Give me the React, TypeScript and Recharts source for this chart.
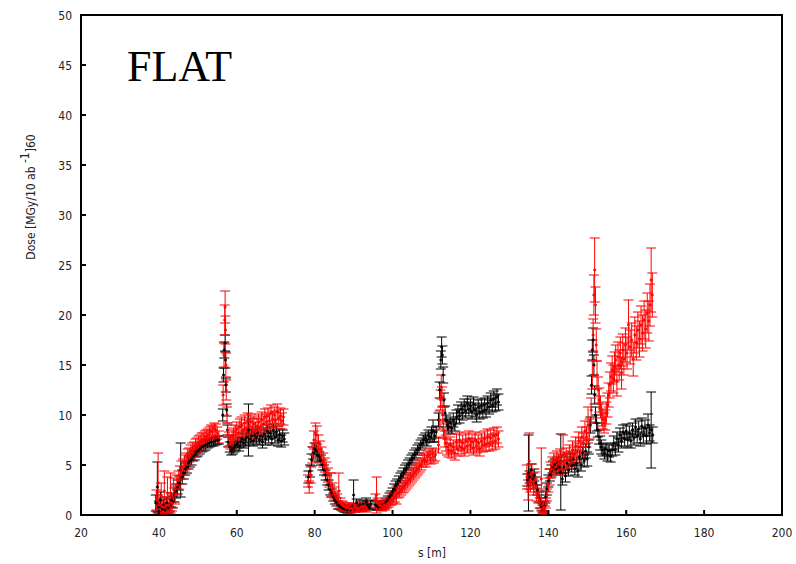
import React from "react";
import { ScatterChart, Scatter, XAxis, YAxis, ErrorBar, ReferenceArea } from "recharts";

// [s (m), dose, error]
const blackSeg1: [number, number, number][] = [
  [39.2,1.2,0.8],[39.6,2.8,2.5],[40.0,0.8,0.6],[40.4,1.5,0.8],[40.8,0.6,0.5],[41.2,1.0,0.6],[41.6,0.5,0.4],[42.0,1.2,0.6],[42.4,0.7,0.5],[42.8,1.0,0.6],[43.2,1.5,0.7],[43.6,1.3,0.6],[44.0,2.0,0.7],[44.4,2.4,0.7],[44.8,2.8,0.7],[45.2,3.2,0.7],[45.6,4.5,2.7],[46.0,3.8,0.7],[46.4,4.2,0.6],[46.8,4.6,0.6],[47.2,4.8,0.6],[47.6,5.2,0.6],[48.0,5.4,0.6],[48.4,5.6,0.6],[48.8,5.9,0.5],[49.2,6.0,0.5],[49.6,6.3,0.5],[50.0,6.4,0.5],[50.5,6.6,0.5],[51.0,6.8,0.5],[51.5,6.9,0.5],[52.0,7.0,0.5],[52.5,7.1,0.4],[53.0,7.2,0.4],[53.5,7.3,0.4],[54.0,7.3,0.4],[54.5,7.4,0.4],[55.0,7.5,0.4],[55.4,7.5,0.4],
  [56.4,10.0,0.6],[56.6,14.0,0.7],[56.8,16.5,0.8],[57.0,17.2,0.8],[57.1,15.5,0.8],[57.2,13.0,0.7],[57.4,10.5,0.6],[57.6,8.5,0.5],[57.8,7.3,0.5],[58.2,6.8,0.5],[58.6,6.5,0.5],[59.0,6.6,0.5],[59.4,6.8,0.5],[59.8,7.0,0.5],[60.2,7.2,0.5],[60.6,6.9,0.5],[61.0,7.3,0.5],[61.4,7.6,0.6],[61.8,7.2,0.5],[62.2,7.5,0.6],[62.6,7.8,0.6],[63.0,8.5,2.6],[63.4,7.6,0.6],[63.8,7.9,0.6],[64.2,7.4,0.5],[64.6,8.0,0.6],[65.0,7.7,0.6],[65.4,8.2,0.6],[65.8,7.5,0.5],[66.2,7.9,0.6],[66.6,7.3,0.6],[67.0,8.1,0.6],[67.4,7.6,0.6],[67.8,8.4,0.6],[68.2,7.8,0.6],[68.6,8.2,0.6],[69.0,7.6,0.6],[69.4,8.5,0.6],[69.8,7.8,0.6],[70.2,8.3,0.6],[70.6,7.5,0.6],[71.0,8.0,0.6],[71.4,7.4,0.6],[71.8,7.9,0.6],[72.2,7.6,0.6],
];
const redSeg1: [number, number, number][] = [
  [39.4,1.5,1.0],[39.8,3.2,3.0],[40.2,1.0,0.8],[40.6,2.0,1.2],[41.0,0.8,0.7],[41.4,2.4,2.0],[41.8,1.0,0.8],[42.2,2.2,1.6],[42.6,1.0,0.7],[43.0,2.2,2.0],[43.4,1.2,0.8],[43.8,2.5,1.2],[44.2,2.0,0.9],[44.6,3.0,1.0],[45.0,3.5,0.9],[45.4,4.0,0.9],[45.8,4.5,0.9],[46.2,4.8,0.8],[46.6,5.2,0.8],[47.0,5.4,0.8],[47.4,5.8,0.8],[47.8,6.0,0.7],[48.2,6.3,0.7],[48.6,6.5,0.7],[49.0,6.6,0.7],[49.4,6.9,0.7],[49.8,7.0,0.7],[50.2,7.2,0.7],[50.6,7.3,0.7],[51.0,7.5,0.7],[51.4,7.6,0.6],[51.8,7.8,0.6],[52.2,7.9,0.6],[52.6,8.0,0.6],[53.0,8.2,0.6],[53.4,8.4,0.6],[53.8,8.3,0.6],[54.2,8.6,0.6],[54.6,8.5,0.6],[55.0,8.2,0.6],[55.4,7.8,0.6],
  [56.5,12.0,1.0],[56.7,16.0,1.2],[56.9,19.5,1.5],[57.0,20.8,1.6],[57.1,18.5,1.4],[57.2,15.0,1.2],[57.3,12.5,1.0],[57.5,10.0,0.8],[57.7,8.5,0.7],[58.0,7.6,0.7],[58.4,7.3,0.7],[58.8,7.8,0.7],[59.2,8.0,0.7],[59.6,8.3,0.7],[60.0,8.6,0.7],[60.4,8.2,0.7],[60.8,8.8,0.8],[61.2,9.0,0.8],[61.6,8.5,0.7],[62.0,9.2,0.8],[62.4,8.7,0.8],[62.8,9.4,0.8],[63.2,8.9,0.8],[63.6,9.3,0.8],[64.0,8.8,0.8],[64.4,9.1,0.8],[64.8,8.5,0.8],[65.2,8.9,0.8],[65.6,9.3,0.8],[66.0,8.8,0.8],[66.4,9.5,0.8],[66.8,9.1,0.8],[67.2,9.8,0.8],[67.6,9.3,0.8],[68.0,9.9,0.8],[68.4,9.4,0.8],[68.8,10.2,0.8],[69.2,9.6,0.8],[69.6,10.0,0.8],[70.0,9.5,0.8],[70.4,10.3,0.8],[70.8,9.7,0.8],[71.2,9.9,0.8],[71.6,9.4,0.8],[72.0,9.8,0.8],
];
const blackSeg2: [number, number, number][] = [
  [78.4,3.8,0.6],[78.8,4.4,0.6],[79.2,5.5,0.6],[79.6,6.2,0.6],[80.0,6.6,0.6],[80.4,6.4,0.6],[80.8,6.0,0.6],[81.2,5.8,0.5],[81.6,5.5,0.5],[82.0,5.0,0.5],[82.4,4.5,0.5],[82.8,4.0,0.5],[83.2,3.5,0.5],[83.6,3.0,0.5],[84.0,2.5,0.5],[84.4,2.2,0.4],[84.8,1.8,0.4],[85.2,1.5,0.4],[85.6,1.3,0.4],[86.0,1.0,0.4],[86.4,0.9,0.3],[86.8,0.8,0.3],[87.2,0.7,0.3],[87.6,0.6,0.3],[88.0,0.6,0.3],[88.4,0.5,0.3],[88.8,0.7,0.3],[89.2,0.5,0.3],[89.6,0.8,0.3],[90.0,2.0,1.5],[90.4,0.6,0.3],[90.8,1.2,0.4],[91.2,0.8,0.3],[91.6,1.0,0.4],[92.0,0.7,0.3],[92.4,1.1,0.4],[92.8,0.9,0.3],[93.2,1.3,0.4],[93.6,1.0,0.4],[94.0,0.8,0.3],[94.4,1.1,0.4],
];
const redSeg2: [number, number, number][] = [
  [78.3,3.4,0.6],[78.6,2.8,0.6],[79.0,4.0,0.8],[79.4,6.0,0.8],[79.8,7.5,0.9],[80.2,8.2,1.0],[80.6,8.0,0.9],[81.0,7.2,0.8],[81.4,6.6,0.8],[81.8,6.0,0.8],[82.2,5.5,0.7],[82.6,5.0,0.7],[83.0,4.6,0.7],[83.4,4.0,0.7],[83.8,3.5,0.7],[84.2,3.0,1.2],[84.6,2.6,0.6],[85.0,2.2,0.6],[85.4,1.9,0.5],[85.8,1.6,0.5],[86.2,2.4,1.8],[86.6,1.2,0.5],[87.0,1.0,0.4],[87.4,0.9,0.4],[87.8,0.8,0.4],[88.2,0.7,0.3],[88.6,0.8,0.4],[89.0,0.6,0.3],[89.4,0.7,0.3],[89.8,0.6,0.3],[90.2,0.8,0.4],[90.6,0.6,0.3],[91.0,0.7,0.3],[91.4,0.6,0.3],[91.8,0.8,0.3],[92.2,0.7,0.3],[92.6,0.9,0.4],[93.0,0.8,0.4],[93.4,0.6,0.3],
];
const blackSeg3: [number, number, number][] = [
  [95.6,1.0,0.4],[96.0,0.9,0.4],[96.4,0.8,0.3],[96.8,0.9,0.3],[97.2,0.8,0.3],[97.6,1.0,0.4],[98.0,1.1,0.4],[98.4,1.3,0.4],[98.8,1.5,0.4],[99.2,1.8,0.4],[99.6,2.0,0.4],[100.0,2.3,0.4],[100.4,2.6,0.5],[100.8,2.9,0.5],[101.2,3.1,0.5],[101.6,3.4,0.5],[102.0,3.7,0.5],[102.4,3.9,0.5],[102.8,4.2,0.5],[103.2,4.5,0.5],[103.6,4.7,0.5],[104.0,5.0,0.5],[104.4,5.2,0.5],[104.8,5.5,0.5],[105.2,5.7,0.5],[105.6,6.0,0.5],[106.0,6.2,0.5],[106.4,6.5,0.5],[106.8,6.7,0.5],[107.2,7.0,0.5],[107.6,7.2,0.5],[108.0,7.5,0.5],[108.4,7.7,0.5],[108.8,7.4,0.5],[109.2,8.0,0.5],[109.6,7.8,0.5],[110.0,8.2,0.6],[110.4,8.4,1.1],[110.8,7.9,0.6],[111.2,8.3,0.6],
];
const redSeg3: [number, number, number][] = [
  [95.6,1.5,0.6],[95.9,2.0,1.8],[96.2,1.2,0.5],[96.6,1.0,0.4],[97.0,0.9,0.4],[97.4,0.8,0.4],[97.8,1.0,0.4],[98.2,0.9,0.4],[98.6,1.1,0.4],[99.0,1.2,0.4],[99.4,1.4,0.4],[99.8,1.5,0.5],[100.2,1.7,0.5],[100.6,1.8,0.5],[101.0,2.0,0.9],[101.4,2.2,0.5],[101.8,2.3,0.5],[102.2,2.5,0.5],[102.6,2.7,0.5],[103.0,2.9,0.6],[103.4,3.1,0.6],[103.8,3.3,0.6],[104.2,3.5,0.6],[104.6,3.7,0.6],[105.0,3.9,0.6],[105.4,4.1,0.6],[105.8,4.3,0.6],[106.2,4.5,0.6],[106.6,4.7,0.6],[107.0,4.9,0.6],[107.4,5.1,0.6],[107.8,5.4,0.6],[108.2,5.6,0.6],[108.6,5.4,0.6],[109.0,5.8,0.6],[109.4,6.0,0.6],[109.8,5.7,0.6],[110.2,6.1,0.6],[110.6,5.8,0.6],[111.0,6.0,0.6],
];
const blackSeg4: [number, number, number][] = [
  [111.8,9.5,0.7],[112.1,12.5,0.8],[112.4,15.5,0.9],[112.6,16.8,1.0],[112.8,16.0,0.9],[113.0,14.0,0.8],[113.2,11.5,0.7],[113.5,10.2,0.7],[113.8,9.4,0.6],[114.1,9.0,0.6],[114.4,8.8,0.6],[114.8,9.2,0.6],[115.2,8.7,0.6],[115.6,9.5,0.7],[116.0,9.0,0.6],[116.4,9.8,0.7],[116.8,10.3,0.7],[117.2,9.9,0.7],[117.6,10.6,0.7],[118.0,10.2,0.7],[118.4,10.9,0.7],[118.8,10.4,0.7],[119.2,11.2,0.7],[119.6,10.6,0.7],[120.0,10.9,0.7],[120.4,10.3,0.7],[120.8,11.1,0.7],[121.2,10.5,0.7],[121.6,10.0,0.7],[122.0,10.8,0.7],[122.4,10.3,0.7],[122.8,10.9,0.7],[123.2,10.4,0.7],[123.6,11.0,0.7],[124.0,10.5,0.7],[124.4,11.2,0.7],[124.8,10.8,0.7],[125.2,11.5,0.7],[125.6,11.0,0.7],[126.0,11.6,0.8],[126.4,11.2,0.8],[126.8,11.8,0.8],[127.2,11.3,0.8],
];
const redSeg4: [number, number, number][] = [
  [111.8,7.0,0.8],[112.1,9.5,0.9],[112.3,11.5,1.0],[112.5,12.8,1.2],[112.7,11.8,1.0],[112.9,10.0,0.9],[113.1,8.5,0.8],[113.4,7.6,0.8],[113.7,7.2,0.8],[114.0,6.8,0.8],[114.4,6.5,0.7],[114.8,7.0,0.8],[115.2,6.4,0.7],[115.6,6.8,0.7],[116.0,6.2,0.7],[116.4,7.3,0.8],[116.8,6.6,0.7],[117.2,7.5,0.8],[117.6,6.8,0.7],[118.0,7.2,0.8],[118.4,6.6,0.7],[118.8,7.4,0.8],[119.2,6.9,0.7],[119.6,7.6,0.8],[120.0,7.0,0.7],[120.4,7.3,0.8],[120.8,6.7,0.7],[121.2,7.5,0.8],[121.6,6.9,0.7],[122.0,7.2,0.8],[122.4,6.6,0.7],[122.8,7.4,0.8],[123.2,7.0,0.7],[123.6,7.6,0.8],[124.0,7.1,0.7],[124.4,7.8,0.8],[124.8,7.2,0.8],[125.2,7.7,0.8],[125.6,7.3,0.8],[126.0,7.9,0.8],[126.4,7.4,0.8],[126.8,8.0,0.8],[127.2,7.6,0.8],
];
const blackSeg5: [number, number, number][] = [
  [134.6,3.5,0.6],[134.9,4.2,3.8],[135.2,3.8,0.6],[135.6,4.5,0.6],[136.0,3.6,0.6],[136.4,4.0,0.6],[136.8,3.2,0.6],[137.2,2.5,0.5],[137.6,1.8,0.5],[138.0,1.2,0.5],[138.3,0.8,0.4],[138.6,0.6,0.4],[139.0,0.9,0.5],[139.3,1.8,0.6],[139.6,2.6,0.6],[140.0,3.4,0.6],[140.4,4.0,0.6],[140.8,4.4,0.6],[141.2,4.8,0.6],[141.6,5.0,0.6],[142.0,4.6,0.6],[142.4,5.2,0.6],[142.8,4.8,0.6],[143.2,4.3,3.8],[143.6,3.6,0.6],[144.0,4.8,0.6],[144.4,3.9,0.6],[144.8,5.2,0.6],[145.2,4.5,0.6],[145.6,5.5,0.6],[146.0,4.9,0.6],[146.4,5.6,0.6],[146.8,4.6,0.6],[147.2,5.2,0.6],[147.6,4.4,0.6],[148.0,5.8,0.6],[148.4,5.0,0.6],[148.8,6.2,0.6],[149.2,5.4,0.6],[149.6,6.4,0.7],[150.0,5.6,0.7],[150.4,6.8,0.7],
  [150.8,9.0,0.8],[151.1,13.0,0.9],[151.3,16.5,1.0],[151.5,17.5,1.2],[151.7,15.0,1.0],[151.9,12.0,0.9],[152.1,10.0,0.8],[152.4,9.2,0.8],[152.7,8.5,0.7],[153.0,7.8,0.7],[153.3,7.2,0.7],[153.6,6.8,0.7],[154.0,6.5,0.6],[154.4,6.2,0.6],[154.8,6.6,0.6],[155.2,6.0,0.6],[155.6,6.4,0.6],[156.0,5.9,0.6],[156.4,6.5,0.6],[156.8,7.2,0.7],[157.2,6.6,0.6],[157.6,7.6,0.7],[158.0,7.0,0.7],[158.4,8.0,0.7],[158.8,7.4,0.7],[159.2,8.3,0.7],[159.6,7.6,0.7],[160.0,8.4,0.7],[160.4,7.5,0.7],[160.8,8.2,0.7],[161.2,7.4,0.7],[161.6,8.5,0.7],[162.0,7.7,0.7],[162.4,8.8,0.8],[162.8,7.9,0.7],[163.2,8.6,0.8],[163.6,7.6,0.7],[164.0,8.9,0.8],[164.4,8.0,0.8],[164.8,8.7,0.8],[165.2,7.9,0.8],[165.6,9.0,1.1],[166.0,8.2,0.8],[166.4,8.5,3.8],[166.8,8.0,0.8],
];
const redSeg5: [number, number, number][] = [
  [134.5,3.8,1.2],[134.8,2.5,1.0],[135.1,5.4,2.8],[135.4,3.2,0.9],[135.8,4.2,0.9],[136.2,2.8,0.8],[136.6,3.5,0.8],[137.0,2.2,0.8],[137.4,1.8,0.6],[137.8,1.2,0.5],[138.2,3.6,3.1],[138.5,0.6,0.4],[138.8,0.8,0.5],[139.1,0.5,0.4],[139.4,1.2,0.5],[139.7,2.0,0.6],[140.0,3.0,0.7],[140.3,3.8,0.8],[140.6,4.5,0.8],[141.0,5.0,0.8],[141.4,5.4,0.8],[141.8,4.8,0.8],[142.2,5.6,0.8],[142.6,5.2,0.8],[143.0,5.8,0.8],[143.4,5.3,0.8],[143.8,6.0,2.0],[144.2,5.5,0.8],[144.6,5.9,0.8],[145.0,5.4,0.8],[145.4,6.2,0.8],[145.8,5.6,0.8],[146.2,6.5,0.9],[146.6,6.0,0.8],[147.0,6.9,0.9],[147.4,6.3,0.9],[147.8,7.4,0.9],[148.2,6.8,0.9],[148.6,7.8,1.0],[149.0,7.2,1.0],[149.4,8.4,1.0],[149.8,7.8,1.0],[150.2,9.0,1.8],[150.6,8.6,1.0],
  [151.0,10.5,1.2],[151.3,14.0,1.4],[151.5,18.0,1.6],[151.7,22.0,2.0],[151.9,24.5,3.2],[152.1,21.0,1.8],[152.3,17.0,1.6],[152.5,14.0,1.4],[152.8,12.5,1.3],[153.1,11.5,1.2],[153.4,10.8,1.1],[153.7,10.0,1.1],[154.0,9.6,1.0],[154.3,9.2,1.0],[154.6,9.5,1.0],[154.9,10.2,1.1],[155.2,11.0,1.2],[155.5,12.0,1.2],[155.8,13.0,1.3],[156.1,13.8,1.4],[156.4,14.5,1.4],[156.7,13.6,1.4],[157.0,14.8,1.5],[157.3,15.5,1.5],[157.6,13.4,1.5],[157.9,15.8,1.5],[158.2,15.0,1.5],[158.5,16.2,1.6],[158.8,14.2,1.6],[159.1,16.5,1.6],[159.4,15.6,1.6],[159.8,17.0,1.7],[160.2,16.2,1.6],[160.6,19.0,2.5],[161.0,16.8,1.7],[161.4,17.5,1.7],[161.8,15.6,1.7],[162.2,18.0,1.8],[162.6,17.2,1.7],[163.0,18.5,1.8],[163.4,17.6,1.8],[163.8,19.0,1.9],[164.2,18.2,1.8],[164.6,19.5,1.9],[165.0,18.6,1.9],[165.4,20.2,2.0],[165.8,19.4,2.0],[166.1,21.0,2.1],[166.4,23.5,3.2],[166.7,22.0,2.2],
];

const xTicks = [20, 40, 60, 80, 100, 120, 140, 160, 180, 200];
const yTicks = [0, 5, 10, 15, 20, 25, 30, 35, 40, 45, 50];

const toRows = (arr: [number, number, number][]) => arr.map(([s, v, e]) => ({ s, v, e }));
const blackData = toRows([...blackSeg1, ...blackSeg2, ...blackSeg3, ...blackSeg4, ...blackSeg5]);
const redData = toRows([...redSeg1, ...redSeg2, ...redSeg3, ...redSeg4, ...redSeg5]);

const TICK_FONT = "'DejaVu Sans', sans-serif";
const textStyle: React.CSSProperties = { fontStretch: "condensed" };

const makeShape = (color: string) => (p: any) => (
  <path
    d={`M${p.cx - 1.5},${p.cy}h3M${p.cx},${p.cy - 1.5}v3`}
    stroke={color}
    strokeWidth={1.4}
    fill="none"
  />
);

const XTick = (props: any) => {
  const { x, y, payload } = props;
  return (
    <g>
      <line x1={x} y1={y} x2={x} y2={y - 5} stroke="#000" strokeWidth={2} />
      <text x={x} y={y + 22} textAnchor="middle" fontSize={12} fontFamily={TICK_FONT} style={textStyle} fill="#222">
        {payload.value}
      </text>
    </g>
  );
};

const YTick = (props: any) => {
  const { x, y, payload } = props;
  return (
    <g>
      <line x1={x} y1={y} x2={x + 5} y2={y} stroke="#000" strokeWidth={2} />
      <text x={x - 9} y={y + 4.5} textAnchor="end" fontSize={12} fontFamily={TICK_FONT} style={textStyle} fill="#222">
        {payload.value}
      </text>
    </g>
  );
};

const YLabel = () => (
  <text
    x={35}
    y={197}
    transform="rotate(-90 35 197)"
    textAnchor="middle"
    fontSize={12}
    fontFamily={TICK_FONT}
    style={textStyle}
    fill="#222"
  >
    Dose [MGy/10 ab <tspan dy={-6}>-1</tspan>
    <tspan dy={6}>]60</tspan>
  </text>
);

const XLabel = () => (
  <text x={432} y={557} textAnchor="middle" fontSize={12} fontFamily={TICK_FONT} style={textStyle} fill="#222">
    s [m]
  </text>
);

export default function App() {
  return (
    <div style={{ position: "absolute", left: 0, top: 0, width: 796, height: 564, background: "#fff" }}>
      <ScatterChart width={796} height={564} margin={{ top: 15, right: 14, bottom: 0, left: 0 }}>
        <XAxis
          type="number"
          dataKey="s"
          domain={[20, 200]}
          ticks={xTicks}
          allowDataOverflow
          height={49}
          axisLine={false}
          tickLine={false}
          tickSize={0}
          tickMargin={0}
          tick={<XTick />}
          interval={0}
          label={{ content: <XLabel /> }}
        />
        <YAxis
          type="number"
          dataKey="v"
          domain={[0, 50]}
          ticks={yTicks}
          allowDataOverflow
          width={81}
          axisLine={false}
          tickLine={false}
          tickSize={0}
          tickMargin={0}
          tick={<YTick />}
          interval={0}
          label={{ content: <YLabel /> }}
        />
        <Scatter data={blackData} dataKey="v" fill="#000" shape={makeShape("#000")} isAnimationActive={false}>
          <ErrorBar dataKey="e" direction="y" width={5} stroke="#000" strokeWidth={1} />
        </Scatter>
        <Scatter data={redData} dataKey="v" fill="#ff0000" shape={makeShape("#ff0000")} isAnimationActive={false}>
          <ErrorBar dataKey="e" direction="y" width={5} stroke="#ff0000" strokeWidth={1} />
        </Scatter>
        <ReferenceArea x1={20} x2={200} y1={0} y2={50} fill="none" fillOpacity={0} stroke="#000" strokeWidth={2} />
      </ScatterChart>
      <div
        style={{
          position: "absolute",
          left: 127,
          top: 45,
          fontFamily: "'Liberation Serif', 'Times New Roman', serif",
          fontSize: 44,
          lineHeight: "44px",
          color: "#000",
          whiteSpace: "nowrap",
        }}
      >
        FLAT
      </div>
    </div>
  );
}
